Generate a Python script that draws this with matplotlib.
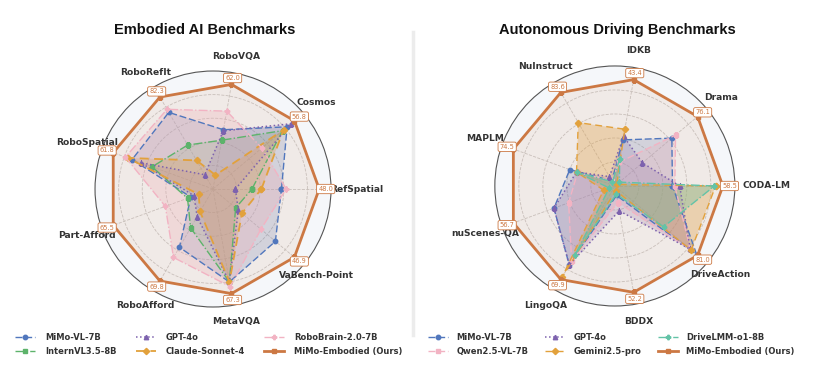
import numpy as np
import matplotlib
matplotlib.use('Agg')
import matplotlib.pyplot as plt

# ---- Embodied AI (normalised radius, ours = 0.9) ----
emb_cats = ['RefSpatial', 'Cosmos', 'RoboVQA', 'RoboRefIt', 'RoboSpatial',
            'Part-Afford', 'RoboAfford', 'MetaVQA', 'VaBench-Point']
emb_ours_scores = ['48.0', '56.8', '62.0', '82.3', '61.8', '65.5', '69.8', '67.3', '46.9']
emb_mimo_vl = [0.58, 0.82, 0.51, 0.75, 0.73, 0.20, 0.57, 0.80, 0.69]
emb_internvl = [0.33, 0.77, 0.42, 0.43, 0.55, 0.23, 0.38, 0.80, 0.25]
emb_gpt4o = [0.19, 0.86, 0.50, 0.14, 0.65, 0.17, 0.27, 0.80, 0.28]
emb_claude = [0.41, 0.78, 0.12, 0.28, 0.77, 0.13, 0.22, 0.80, 0.32]
emb_robobrain = [0.62, 0.54, 0.67, 0.78, 0.79, 0.43, 0.67, 0.84, 0.53]
emb_ours = [0.9, 0.9, 0.9, 0.9, 0.9, 0.9, 0.9, 0.9, 0.9]

# ---- Autonomous driving ----
ad_cats = ['CODA-LM', 'Drama', 'IDKB', 'NuInstruct', 'MAPLM',
           'nuScenes-QA', 'LingoQA', 'BDDX', 'DriveAction']
ad_ours_scores = ['58.5', '76.1', '43.4', '83.6', '74.5', '56.7', '69.9', '52.2', '81.0']
ad_mimo_vl = [0.48, 0.62, 0.39, 0.05, 0.40, 0.54, 0.76, 0.08, 0.89]
ad_qwen = [0.50, 0.66, 0.20, 0.05, 0.33, 0.41, 0.72, 0.14, 0.82]
ad_gpt4o = [0.54, 0.30, 0.42, 0.09, 0.34, 0.54, 0.76, 0.21, 0.82]
ad_gemini = [0.84, 0.02, 0.48, 0.61, 0.34, 0.10, 0.88, 0.04, 0.83]
ad_drivelmm = [0.83, 0.05, 0.23, 0.04, 0.34, 0.05, 0.66, 0.07, 0.53]
ad_ours = [0.9, 0.9, 0.9, 0.9, 0.9, 0.9, 0.9, 0.9, 0.9]

BLUE = '#5177BD'
GREEN = '#5DB36B'
PURPLE = '#7D62AE'
GOLD = '#E2A13C'
PINK = '#F2B3C3'
TEAL = '#63C3A7'
OURS = '#CC7843'

plt.rcParams['font.family'] = ['DejaVu Sans']

fig = plt.figure(figsize=(8.22, 3.71), dpi=100)


def radar(rect, cats, series, ours_scores, label_r, special=None):
    ax = fig.add_axes(rect, projection='polar')
    n = len(cats)
    ang = np.arange(n) * 2 * np.pi / n
    ax.set_facecolor('#f5f7fa')
    ax.set_ylim(0, 1)
    ax.set_yticks([0.2, 0.4, 0.6, 0.8])
    ax.set_yticklabels([])
    ax.set_xticks(ang)
    ax.set_xticklabels([])
    ax.grid(True, color='#c8c8c8', linestyle='--', linewidth=0.6)
    ax.spines['polar'].set_color('#555555')
    ax.spines['polar'].set_linewidth(0.8)
    ax.tick_params(length=0)
    handles = []
    for vals, name, col, mk, ls, lw, fa in series:
        a = np.concatenate([ang, ang[:1]])
        v = np.concatenate([vals, vals[:1]])
        ax.fill(a, v, color=col, alpha=fa, zorder=2, lw=0)
        h, = ax.plot(a, v, color=col, marker=mk, linestyle=ls, linewidth=lw,
                     markersize=3.2, label=name, zorder=3)
        handles.append(h)
    for i, (t, c, s) in enumerate(zip(ang, cats, ours_scores)):
        r, ha = label_r, 'center'
        if special and i in special:
            r, ha = special[i]
        ax.text(t, r, c, ha=ha, va='center', fontsize=6.6,
                fontweight='bold', color='#333333', clip_on=False, zorder=5)
        ax.text(t, 0.955, s, ha='center', va='center', fontsize=4.8, color=OURS,
                zorder=6, clip_on=False,
                bbox=dict(boxstyle='round,pad=0.25', fc='white', ec=OURS, lw=0.6))
    return ax, handles


emb_series = [
    (emb_mimo_vl, 'MiMo-VL-7B', BLUE, 'o', (0, (5, 2)), 1.0, 0.2),
    (emb_internvl, 'InternVL3.5-8B', GREEN, 's', '-.', 1.0, 0.18),
    (emb_gpt4o, 'GPT-4o', PURPLE, '^', ':', 1.1, 0.18),
    (emb_claude, 'Claude-Sonnet-4', GOLD, 'D', (0, (5, 3)), 1.3, 0.28),
    (emb_robobrain, 'RoboBrain-2.0-7B', PINK, 'P', '-.', 1.0, 0.28),
    (emb_ours, 'MiMo-Embodied (Ours)', OURS, 's', '-', 2.0, 0.1),
]
ad_series = [
    (ad_mimo_vl, 'MiMo-VL-7B', BLUE, 'o', (0, (5, 2)), 1.0, 0.2),
    (ad_qwen, 'Qwen2.5-VL-7B', PINK, 's', (0, (5, 2)), 1.0, 0.25),
    (ad_gpt4o, 'GPT-4o', PURPLE, '^', ':', 1.1, 0.2),
    (ad_gemini, 'Gemini2.5-pro', GOLD, 'D', (0, (5, 3)), 1.0, 0.32),
    (ad_drivelmm, 'DriveLMM-o1-8B', TEAL, 'P', '-.', 1.0, 0.35),
    (ad_ours, 'MiMo-Embodied (Ours)', OURS, 's', '-', 2.0, 0.1),
]

ax1, h1 = radar([0.1156, 0.1725, 0.2871, 0.6361], emb_cats, emb_series, emb_ours_scores,
                1.14, special={0: (1.22, 'center')})
ax2, h2 = radar([0.6020, 0.1752, 0.292, 0.647], ad_cats, ad_series, ad_ours_scores,
                1.15, special={0: (1.06, 'left')})

fig.text(205 / 822, 1 - 30 / 371, 'Embodied AI Benchmarks', ha='center', va='center',
         fontsize=10.5, fontweight='bold', family=['Liberation Sans', 'DejaVu Sans'],
         color='#111111')
fig.text(617 / 822, 1 - 30 / 371, 'Autonomous Driving Benchmarks', ha='center', va='center',
         fontsize=10.5, fontweight='bold', family=['Liberation Sans', 'DejaVu Sans'],
         color='#111111')

# faint divider
fig.add_artist(plt.Line2D([413 / 822, 413 / 822], [1 - 32 / 371, 1 - 335 / 371],
                          color='#ececec', linewidth=2.5))

leg_kw = dict(ncol=3, frameon=False, prop={'size': 6.0, 'weight': 'bold'}, numpoints=1,
              handlelength=2.4, labelspacing=0.55,
              loc='center left', borderaxespad=0, borderpad=0)
l1 = fig.legend(h1, [h.get_label() for h in h1], columnspacing=2.3, handletextpad=1.2,
                bbox_to_anchor=(15 / 822, 1 - 344.5 / 371), **leg_kw)
l2 = fig.legend(h2, [h.get_label() for h in h2], columnspacing=2.0, handletextpad=1.0,
                bbox_to_anchor=(428 / 822, 1 - 344.5 / 371), **leg_kw)
for lg in (l1, l2):
    for t in lg.get_texts():
        t.set_color('#333333')

fig.savefig('out.png', dpi=100, facecolor='white')
